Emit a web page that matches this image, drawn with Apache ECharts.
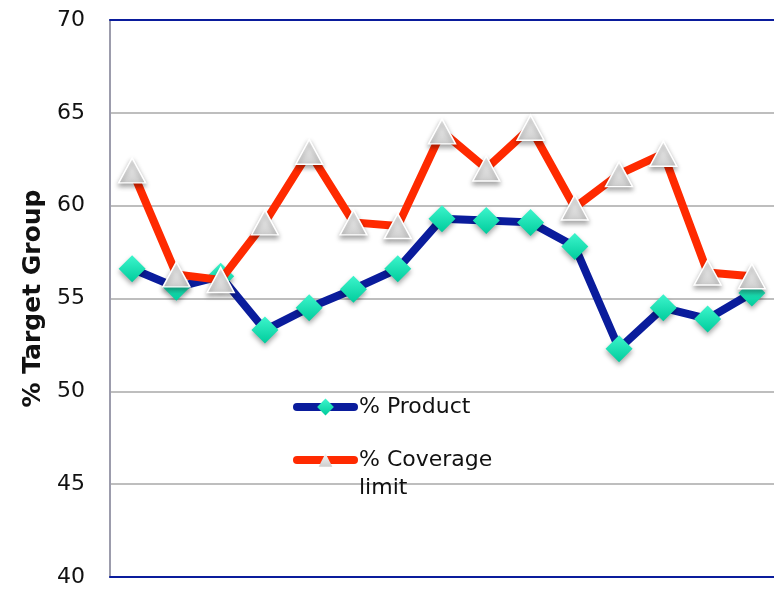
<!DOCTYPE html>
<html>
<head>
<meta charset="utf-8">
<script src="https://cdn.jsdelivr.net/npm/echarts@6/dist/echarts.min.js"></script>
<style>
html,body{margin:0;padding:0;background:#fff;}
#chart{width:774px;height:589px;}
</style>
</head>
<body>
<div id="chart"></div>
<script>
const categories = ['1','2','3','4','5','6','7','8','9','10','11','12','13','14','15'];
const productValues = [56.6, 55.6, 56.2, 53.3, 54.5, 55.5, 56.6, 59.3, 59.2, 59.1, 57.8, 52.3, 54.5, 53.9, 55.3];
const coverageValues = [61.9, 56.3, 56.0, 59.1, 62.9, 59.1, 58.9, 64.0, 62.0, 64.2, 59.9, 61.7, 62.8, 56.4, 56.2];
const seriesNames = ['% Product', '% Coverage limit'];
const yAxisTitle = '% Target Group';
const yMin = 40, yMax = 70, yStep = 5;

const chart = echarts.init(document.getElementById('chart'), null, {renderer: 'canvas'});

const navy = '#0a1c9c';
const red = '#ff2a00';
const diamondFill = new echarts.graphic.LinearGradient(0, 0, 0, 1, [
  {offset: 0, color: '#3df5cc'}, {offset: 1, color: '#00cc9c'}
]);
const triFill = new echarts.graphic.LinearGradient(0, 0, 0, 1, [
  {offset: 0, color: '#f7f7f7'}, {offset: 1, color: '#cdcdcd'}
]);

const option = {
  backgroundColor: '#ffffff',
  animation: false,
  grid: {left: 110, right: -1.5, top: 20, bottom: 12, containLabel: false},
  legend: [
    {
      data: [seriesNames[0]],
      left: 293, top: 396, padding: 0,
      itemWidth: 57, itemHeight: 21,
      textStyle: {fontFamily: 'DejaVu Sans', fontSize: 22, color: '#111'},
      lineStyle: {width: 8, cap: 'round'},
      itemStyle: {shadowBlur: 0, shadowOffsetY: 0, borderWidth: 0},
      selectedMode: false
    },
    {
      data: [seriesNames[1]],
      left: 293, top: 418, padding: 0,
      itemWidth: 57, itemHeight: 17,
      formatter: function (n) { return '\n' + n.replace(' limit', '\nlimit'); },
      textStyle: {fontFamily: 'DejaVu Sans', fontSize: 22, color: '#111', lineHeight: 28},
      lineStyle: {width: 8, cap: 'round'},
      itemStyle: {shadowBlur: 0, shadowOffsetY: 0, borderWidth: 0},
      selectedMode: false
    }
  ],
  xAxis: [
    {
      type: 'category', data: categories, boundaryGap: true, position: 'bottom',
      axisLine: {show: true, lineStyle: {color: navy, width: 2}},
      axisTick: {show: false}, axisLabel: {show: false}, splitLine: {show: false}
    },
    {
      type: 'category', data: categories, boundaryGap: true, position: 'top',
      axisLine: {show: true, onZero: false, lineStyle: {color: navy, width: 2}},
      axisTick: {show: false}, axisLabel: {show: false}, splitLine: {show: false}
    }
  ],
  yAxis: {
    type: 'value', min: yMin, max: yMax, interval: yStep,
    name: yAxisTitle, nameLocation: 'middle', nameGap: 62, nameRotate: 90,
    nameTextStyle: {fontFamily: 'DejaVu Sans', fontWeight: 'bold', fontSize: 25, color: '#111'},
    axisLine: {show: true, lineStyle: {color: '#9c9cac', width: 2}},
    axisTick: {show: false},
    axisLabel: {margin: 25, fontFamily: 'DejaVu Sans', fontSize: 22, color: '#111'},
    splitLine: {show: true, lineStyle: {color: '#a8a8a8', width: 1.5}}
  },
  series: [
    {
      name: seriesNames[0], type: 'line', data: productValues,
      xAxisIndex: 0, yAxisIndex: 0,
      symbol: 'diamond', symbolSize: [27, 27],
      lineStyle: {color: navy, width: 8, cap: 'round', join: 'round'},
      itemStyle: {color: diamondFill, borderWidth: 0, shadowBlur: 5, shadowOffsetY: 3, shadowColor: 'rgba(0,0,0,0.35)'},
      z: 3
    },
    {
      name: seriesNames[1], type: 'line', data: coverageValues,
      xAxisIndex: 0, yAxisIndex: 0,
      symbol: 'triangle', symbolSize: [27, 25],
      lineStyle: {color: red, width: 8, cap: 'round', join: 'round'},
      itemStyle: {color: triFill, borderColor: '#ffffff', borderWidth: 1.5, shadowBlur: 5, shadowOffsetY: 3, shadowColor: 'rgba(0,0,0,0.35)'},
      z: 4
    }
  ]
};
chart.setOption(option);
</script>
</body>
</html>
